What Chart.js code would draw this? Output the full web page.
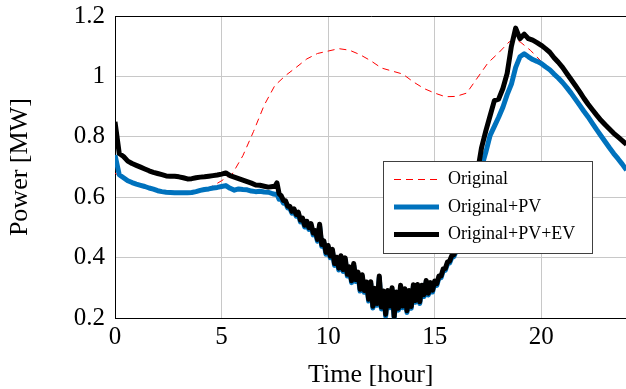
<!DOCTYPE html>
<html>
<head>
<meta charset="utf-8">
<script src="https://cdn.jsdelivr.net/npm/chart.js@4/dist/chart.umd.min.js"></script>
<style>
  html, body { margin: 0; padding: 0; background: #fff; overflow: hidden; }
  #wrap { position: relative; width: 640px; height: 389px; }
</style>
</head>
<body>
<div id="wrap"><canvas id="c" width="640" height="389"></canvas></div>
<script>
// ---- data ----
const hours = [
  0,0.2,0.4,0.6,0.8,1,1.2,1.4,1.6,1.8,
  2,2.2,2.4,2.6,2.8,3,3.2,3.4,3.6,3.8,
  4,4.2,4.4,4.6,4.8,5,5.2,5.4,5.6,5.8,
  6,6.2,6.4,6.6,6.8,7,7.2,7.4,
  7.5,7.6,7.7,7.8,7.9,8,8.1,8.2,8.3,8.4,8.5,8.6,8.7,8.8,8.9,
  9,9.1,9.2,9.3,9.4,9.5,9.6,9.7,9.8,9.9,
  10,10.1,10.2,10.3,10.4,10.5,10.6,10.7,10.8,10.9,
  11,11.1,11.2,11.3,11.4,11.5,11.6,11.7,11.8,11.9,
  12,12.1,12.2,12.3,12.4,12.5,12.6,12.7,12.8,12.9,
  13,13.1,13.2,13.3,13.4,13.5,13.6,13.7,13.8,13.9,
  14,14.1,14.2,14.3,14.4,14.5,14.6,14.7,14.8,14.9,
  15,15.1,15.2,15.3,15.4,15.5,15.6,15.7,15.8,15.9,
  16,16.1,16.2,16.3,16.4,16.5,16.6,16.7,16.8,16.9,
  17,
  17.2,17.4,17.6,17.8,
  18,18.2,18.4,18.6,18.8,19,19.2,19.4,19.6,19.8,
  20,20.2,20.4,20.6,20.8,21,21.2,21.4,21.6,21.8,
  22,22.2,22.4,22.6,22.8,23,23.2,23.4,23.6,23.8,
  24
];
const originalPV = [
  0.740,0.675,0.665,0.655,0.649,0.644,0.640,0.636,0.631,0.627,
  0.622,0.619,0.617,0.616,0.615,0.615,0.615,0.615,0.616,0.619,
  0.623,0.626,0.628,0.631,0.633,0.636,0.639,0.630,0.624,0.628,
  0.626,0.625,0.621,0.619,0.620,0.618,0.617,0.612,
  0.610,0.611,0.594,0.595,0.581,0.583,0.565,0.565,0.548,0.556,0.538,0.545,0.519,0.525,0.502,
  0.515,0.494,0.507,0.476,0.484,0.455,0.505,0.438,0.450,0.412,
  0.435,0.400,0.422,0.375,0.396,0.360,0.401,0.355,0.394,0.340,
  0.364,0.318,0.375,0.322,0.347,0.290,0.338,0.286,0.314,0.257,
  0.315,0.234,0.293,0.243,0.334,0.231,0.284,0.207,0.286,0.235,
  0.295,0.200,0.281,0.227,0.303,0.235,0.292,0.219,0.286,0.233,
  0.305,0.253,0.306,0.249,0.303,0.272,0.319,0.277,0.312,0.287,
  0.317,0.309,0.334,0.334,0.357,0.359,0.380,0.383,0.401,0.404,
  0.421,0.437,0.457,0.473,0.498,0.528,0.558,0.585,0.610,0.633,
  0.655,
  0.700,0.750,0.805,0.835,
  0.865,0.898,0.940,0.975,1.030,1.065,1.075,1.065,1.056,1.050,
  1.043,1.032,1.022,1.008,0.995,0.980,0.963,0.945,0.925,0.905,
  0.885,0.866,0.845,0.824,0.804,0.784,0.764,0.745,0.728,0.710,
  0.690
];
const originalPVEV = [
  0.850,0.745,0.735,0.720,0.712,0.706,0.700,0.694,0.688,0.683,
  0.679,0.675,0.671,0.670,0.670,0.668,0.665,0.661,0.662,0.665,
  0.667,0.668,0.670,0.672,0.674,0.677,0.681,0.672,0.667,0.662,
  0.657,0.652,0.647,0.641,0.640,0.637,0.634,0.636,
  0.636,0.648,0.612,0.605,0.590,0.589,0.571,0.571,0.554,0.562,0.544,0.551,0.525,0.531,0.508,
  0.521,0.500,0.513,0.482,0.490,0.461,0.511,0.444,0.456,0.418,
  0.441,0.406,0.428,0.381,0.402,0.366,0.407,0.361,0.400,0.346,
  0.370,0.324,0.381,0.328,0.353,0.296,0.344,0.292,0.320,0.263,
  0.321,0.240,0.299,0.249,0.340,0.237,0.290,0.213,0.292,0.241,
  0.301,0.206,0.287,0.233,0.309,0.241,0.298,0.225,0.292,0.239,
  0.311,0.259,0.312,0.255,0.309,0.278,0.325,0.283,0.318,0.293,
  0.323,0.315,0.340,0.340,0.363,0.365,0.386,0.389,0.407,0.410,
  0.427,0.443,0.463,0.479,0.508,0.540,0.570,0.598,0.623,0.648,
  0.680,
  0.765,0.820,0.870,0.920,
  0.925,0.960,1.010,1.100,1.160,1.125,1.140,1.125,1.120,1.112,
  1.103,1.092,1.080,1.062,1.047,1.030,1.010,0.990,0.970,0.950,
  0.928,0.908,0.890,0.872,0.855,0.840,0.826,0.812,0.800,0.788,
  0.775
];
const hoursOrig = [
  0,0.5,1,1.5,2,2.5,3,3.5,4,4.5,5,5.5,6,6.5,7,7.5,8,8.5,9,9.5,
  10,10.5,11,11.5,12,12.5,13,13.5,14,14.5,15,15.5,16,16.5,17,17.5,
  18,18.5,19,19.5,20,20.5,21,21.5,22,22.5,23,23.5,24
];
const original = [
  0.680,0.660,0.644,0.633,0.622,0.616,0.615,0.615,0.623,0.634,
  0.655,0.677,0.738,0.818,0.905,0.970,1.003,1.030,1.058,1.076,
  1.084,1.092,1.087,1.072,1.052,1.028,1.018,1.008,0.982,0.960,
  0.945,0.933,0.934,0.945,0.995,1.045,1.078,1.115,1.115,1.086,
  1.050,1.015,0.980,0.935,0.885,0.835,0.784,0.737,0.690
];
const seriesLabels = ['Original', 'Original+PV', 'Original+PV+EV'];
const xTicks = [0, 5, 10, 15, 20];
const yTicks = [0.2, 0.4, 0.6, 0.8, 1, 1.2];

// ---- chart ----
const pts = (xs, ys) => xs.map((x, i) => ({ x: x, y: ys[i] }));
const serif = "'Liberation Serif', 'Times New Roman', serif";

const framePlugin = {
  id: 'frameAndLegend',
  afterDatasetsDraw(chart) {
    const { ctx, chartArea: a } = chart;
    ctx.save();
    ctx.setLineDash([]);
    ctx.strokeStyle = '#000';
    ctx.lineWidth = 1;
    ctx.beginPath();
    ctx.moveTo(Math.round(a.left) + 0.5, Math.round(a.top) + 0.5);
    ctx.lineTo(Math.round(a.right) + 0.5, Math.round(a.top) + 0.5);
    ctx.stroke();
    // legend box
    const bx = 383.5, by = 161.5, bw = 209, bh = 92;
    ctx.fillStyle = '#fff';
    ctx.fillRect(bx, by, bw, bh);
    ctx.strokeStyle = '#404040';
    ctx.strokeRect(bx, by, bw, bh);
    const rows = [179.5, 207, 234.5];
    const order = [2, 1, 0];
    ctx.font = "18px " + serif;
    ctx.textBaseline = 'middle';
    ctx.textAlign = 'left';
    order.forEach((di, r) => {
      const ds = chart.data.datasets[di];
      ctx.save();
      ctx.strokeStyle = ds.borderColor;
      ctx.lineWidth = ds.borderWidth;
      ctx.setLineDash(ds.borderDash || []);
      ctx.beginPath();
      ctx.moveTo(394, rows[r]);
      ctx.lineTo(439, rows[r]);
      ctx.stroke();
      ctx.restore();
      ctx.fillStyle = '#000';
      ctx.fillText(ds.label, 448, rows[r]);
    });
    ctx.restore();
  }
};

new Chart(document.getElementById('c'), {
  type: 'line',
  data: {
    datasets: [
      {
        label: seriesLabels[2], data: pts(hours, originalPVEV),
        borderColor: '#000000', borderWidth: 5, order: 0
      },
      {
        label: seriesLabels[1], data: pts(hours, originalPV),
        borderColor: '#0072BD', borderWidth: 5, order: 1
      },
      {
        label: seriesLabels[0], data: pts(hoursOrig, original),
        borderColor: '#ff0000', borderWidth: 1, borderDash: [7, 5], order: 2
      }
    ]
  },
  options: {
    responsive: false,
    animation: false,
    devicePixelRatio: 1,
    layout: { padding: { top: 16, right: 13.5, left: 0, bottom: 0 } },
    elements: {
      point: { radius: 0 },
      line: { tension: 0, borderJoinStyle: 'round', borderCapStyle: 'butt', fill: false }
    },
    datasets: { line: { clip: 0 } },
    plugins: { legend: { display: false }, tooltip: { enabled: false } },
    scales: {
      x: {
        type: 'linear', min: 0, max: 24,
        afterFit(s) { s.height = 70.7; s.paddingLeft = 0; s.paddingRight = 0; },
        afterBuildTicks(s) { s.ticks = xTicks.map(v => ({ value: v })); },
        ticks: {
          color: '#000', padding: 4, maxRotation: 0, autoSkip: false,
          font: { family: serif, size: 25 },
          callback: v => String(v)
        },
        grid: { color: '#c8c8c8', lineWidth: 1, drawTicks: false },
        border: { color: '#000', width: 1 },
        title: {
          display: true, text: 'Time [hour]', color: '#000',
          font: { family: serif, size: 26, lineHeight: 1.0 },
          padding: { top: 0, bottom: 0.5 }
        }
      },
      y: {
        type: 'linear', min: 0.2, max: 1.2,
        afterFit(s) { s.width = 115; s.paddingTop = 0; s.paddingBottom = 0; },
        afterBuildTicks(s) { s.ticks = yTicks.map(v => ({ value: v })); },
        ticks: {
          color: '#000', padding: 10,
          font: { family: serif, size: 25, lineHeight: 0.8 },
          callback: v => String(v)
        },
        grid: { color: '#c8c8c8', lineWidth: 1, drawTicks: false },
        border: { color: '#000', width: 1 },
        title: {
          display: true, text: 'Power [MW]', color: '#000',
          font: { family: serif, size: 26 },
          padding: { top: 5, bottom: 0 }
        }
      }
    }
  },
  plugins: [framePlugin]
});
</script>
</body>
</html>
